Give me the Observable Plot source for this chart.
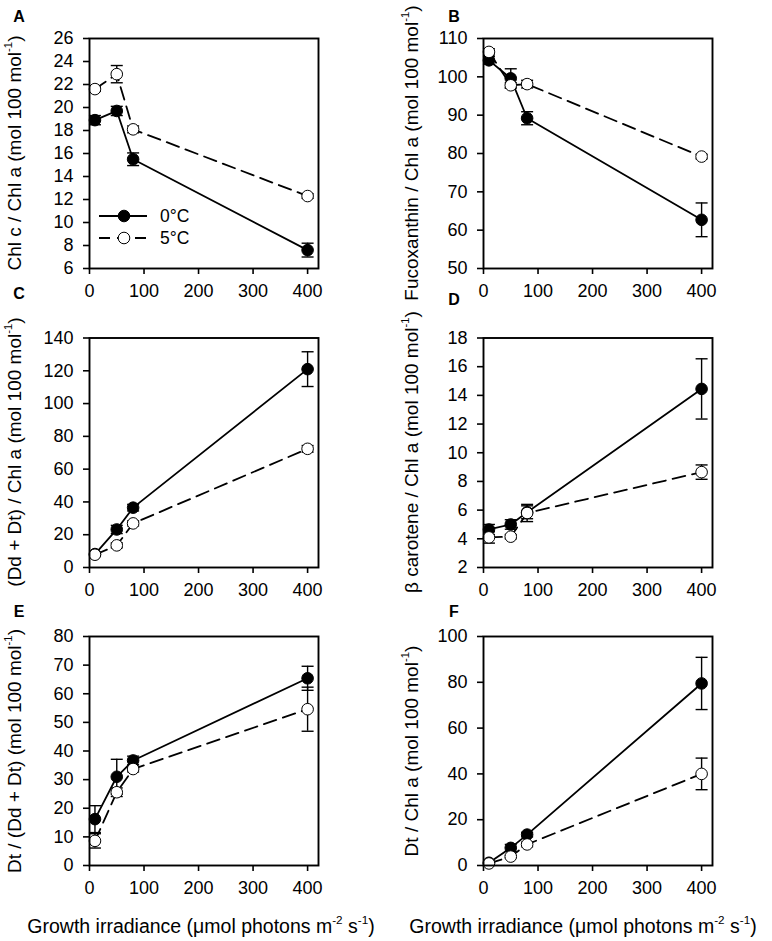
<!DOCTYPE html>
<html><head><meta charset="utf-8">
<script src="https://cdn.jsdelivr.net/npm/d3@7"></script>
<script src="https://cdn.jsdelivr.net/npm/@observablehq/plot@0.6"></script>
<style>
body{margin:0;background:#fff;}
#fig{position:relative;width:772px;height:941px;font-family:"Liberation Sans",Arial,sans-serif;color:#000;overflow:hidden;background:#fff}
.panel{position:absolute}
.ylab{position:absolute;white-space:nowrap;font-size:19px;transform:translate(-50%,-50%) rotate(-90deg);}
.xlab{position:absolute;white-space:nowrap;font-size:19.5px;transform:translate(-50%,-50%);}
.letter{position:absolute;font-weight:bold;font-size:16px;transform:translate(-50%,-50%);}
sup{font-size:0.6em;vertical-align:0.75em;line-height:0}
</style></head><body><div id="fig"></div>
<script>
// ---- data ----
const irradiance = [10, 50, 80, 400];
const xTicks = [0, 100, 200, 300, 400];
const temps = ["0°C", "5°C"];

// A: Chl c / Chl a
const chlc0 = [18.9, 19.7, 15.5, 7.6], chlc0Err = [0.4, 0.4, 0.55, 0.6];
const chlc5 = [21.6, 22.9, 18.1, 12.3], chlc5Err = [0.2, 0.75, 0.3, 0.2];
const ticksA = [6, 8, 10, 12, 14, 16, 18, 20, 22, 24, 26];
// B: Fucoxanthin / Chl a
const fuco0 = [104.3, 99.6, 89.2, 62.7], fuco0Err = [1.0, 2.5, 1.7, 4.4];
const fuco5 = [106.5, 97.8, 98.1, 79.2], fuco5Err = [0.8, 0.7, 1.0, 0.6];
const ticksB = [50, 60, 70, 80, 90, 100, 110];
// C: (Dd + Dt) / Chl a
const ddt0 = [8.2, 23.2, 36.5, 121.0], ddt0Err = [1.0, 2.5, 2.0, 10.6];
const ddt5 = [7.8, 13.5, 26.9, 72.4], ddt5Err = [1.0, 1.5, 1.5, 2.0];
const ticksC = [0, 20, 40, 60, 80, 100, 120, 140];
// D: beta carotene / Chl a
const bcar0 = [4.65, 5.0, 5.85, 14.45], bcar0Err = [0.35, 0.33, 0.45, 2.1];
const bcar5 = [4.1, 4.15, 5.8, 8.65], bcar5Err = [0.4, 0.15, 0.6, 0.5];
const ticksD = [2, 4, 6, 8, 10, 12, 14, 16, 18];
// E: Dt / (Dd + Dt)
const dtr0 = [16.2, 31.0, 36.7, 65.4], dtr0Err = [4.7, 6.1, 1.5, 4.2];
const dtr5 = [8.6, 25.6, 33.7, 54.6], dtr5Err = [2.5, 1.5, 1.0, 7.7];
const ticksE = [0, 10, 20, 30, 40, 50, 60, 70, 80];
// F: Dt / Chl a
const dtchl0 = [1.2, 7.7, 13.5, 79.5], dtchl0Err = [0.5, 1.5, 1.0, 11.4];
const dtchl5 = [0.9, 3.9, 9.2, 40.0], dtchl5Err = [0.3, 0.5, 1.0, 6.9];
const ticksF = [0, 20, 40, 60, 80, 100];

const yLabels = [
  "Chl c / Chl a (mol 100 mol<sup>-1</sup>)",
  "Fucoxanthin / Chl a (mol 100 mol<sup>-1</sup>)",
  "(Dd + Dt) / Chl a (mol 100 mol<sup>-1</sup>)",
  "β carotene / Chl a (mol 100 mol<sup>-1</sup>)",
  "Dt / (Dd + Dt) (mol 100 mol<sup>-1</sup>)",
  "Dt / Chl a (mol 100 mol<sup>-1</sup>)"
];
const xTitle = "Growth irradiance (μmol photons m<sup>-2</sup> s<sup>-1</sup>)";
const letters = ["A", "B", "C", "D", "E", "F"];

// ---- layout ----
const cols = [{left: 0, ml: 89, labX: 15, letX: 19, titleX: 201}, {left: 386, ml: 97, labX: 412, letX: 454, titleX: 583}];
const rows = [{top: 0, mt: 38, fh: 230, letY: [17, 17]}, {top: 300, mt: 37.5, fh: 229.5, letY: [294, 300]}, {top: 600, mt: 36, fh: 229, letY: [612, 612]}];
const FW = 229;

function table(vals, errs, t) {
  return irradiance.map((x, i) => ({x, y: vals[i], lo: vals[i] - errs[i], hi: vals[i] + errs[i], t}));
}

const panels = [
  {s: [table(chlc0, chlc0Err, 0), table(chlc5, chlc5Err, 1)], ticks: ticksA},
  {s: [table(fuco0, fuco0Err, 0), table(fuco5, fuco5Err, 1)], ticks: ticksB},
  {s: [table(ddt0, ddt0Err, 0), table(ddt5, ddt5Err, 1)], ticks: ticksC},
  {s: [table(bcar0, bcar0Err, 0), table(bcar5, bcar5Err, 1)], ticks: ticksD},
  {s: [table(dtr0, dtr0Err, 0), table(dtr5, dtr5Err, 1)], ticks: ticksE},
  {s: [table(dtchl0, dtchl0Err, 0), table(dtchl5, dtchl5Err, 1)], ticks: ticksF}
];

const cap = {draw(ctx, size) { const w = Math.sqrt(size / Math.PI); ctx.moveTo(-w, 0); ctx.lineTo(w, 0); }};
const fig = document.getElementById("fig");

panels.forEach((p, i) => {
  const c = cols[i % 2], r = rows[Math.floor(i / 2)];
  const mb = 45;
  const marks = [];
  p.s.forEach(data => {
    const open = data[0].t === 1;
    marks.push(
      Plot.line(data, {x: "x", y: "y", stroke: "black", strokeWidth: 1.8, strokeDasharray: open ? "13,7" : null}),
      Plot.ruleX(data, {x: "x", y1: "lo", y2: "hi", stroke: "black", strokeWidth: 1.4}),
      Plot.dot(data, {x: "x", y: "hi", symbol: cap, r: 6, stroke: "black", strokeWidth: 1.4, fill: "none"}),
      Plot.dot(data, {x: "x", y: "lo", symbol: cap, r: 6, stroke: "black", strokeWidth: 1.4, fill: "none"}),
      Plot.dot(data, {x: "x", y: "y", r: 5.8, fill: open ? "white" : "black", stroke: "black", strokeWidth: 1})
    );
  });
  const svg = Plot.plot({
    width: 386,
    height: r.mt + r.fh + mb,
    marginLeft: c.ml, marginRight: 386 - c.ml - FW, marginTop: r.mt, marginBottom: mb,
    style: {fontSize: "18px", fontFamily: "'Liberation Sans', Arial, sans-serif", color: "black", background: "transparent", overflow: "visible"},
    x: {domain: [0, 420]},
    y: {domain: [p.ticks[0], p.ticks[p.ticks.length - 1]]},
    marks: [
      Plot.axisX({ticks: xTicks, tickSize: 6, tickPadding: 10, label: null, strokeWidth: 1.6}),
      Plot.axisY({ticks: p.ticks, tickSize: 6, tickPadding: 10, label: null, strokeWidth: 1.6}),
      ...marks,
      Plot.frame({stroke: "black", strokeWidth: 1.9})
    ]
  });
  svg.classList.add("panel");
  svg.style.left = c.left + "px";
  svg.style.top = r.top + "px";
  fig.appendChild(svg);

  const yl = document.createElement("div");
  yl.className = "ylab";
  yl.innerHTML = yLabels[i];
  yl.style.left = c.labX + "px";
  yl.style.top = (r.top + r.mt + r.fh / 2) + "px";
  fig.appendChild(yl);

  const lt = document.createElement("div");
  lt.className = "letter";
  lt.textContent = letters[i];
  lt.style.left = c.letX + "px";
  lt.style.top = r.letY[i % 2] + "px";
  fig.appendChild(lt);

  if (i >= 4) {
    const xt = document.createElement("div");
    xt.className = "xlab";
    xt.innerHTML = xTitle;
    xt.style.left = c.titleX + "px";
    xt.style.top = "926px";
    fig.appendChild(xt);
  }
});

// legend in panel A
const ns = "http://www.w3.org/2000/svg";
const leg = document.createElementNS(ns, "svg");
leg.setAttribute("width", 130); leg.setAttribute("height", 50);
leg.style.position = "absolute"; leg.style.left = "95px"; leg.style.top = "204px";
temps.forEach((t, k) => {
  const y = 12 + k * 22;
  const ln = document.createElementNS(ns, "line");
  ln.setAttribute("x1", 4); ln.setAttribute("x2", 52); ln.setAttribute("y1", y); ln.setAttribute("y2", y);
  ln.setAttribute("stroke", "black"); ln.setAttribute("stroke-width", 1.8);
  if (k === 1) ln.setAttribute("stroke-dasharray", "11,7");
  leg.appendChild(ln);
  const ci = document.createElementNS(ns, "circle");
  ci.setAttribute("cx", 29); ci.setAttribute("cy", y); ci.setAttribute("r", 5.8);
  ci.setAttribute("fill", k === 0 ? "black" : "white"); ci.setAttribute("stroke", "black");
  leg.appendChild(ci);
  const tx = document.createElementNS(ns, "text");
  tx.setAttribute("x", 65); tx.setAttribute("y", y + 6);
  tx.setAttribute("font-size", 17.5); tx.setAttribute("font-family", "'Liberation Sans', Arial, sans-serif");
  tx.textContent = t;
  leg.appendChild(tx);
});
fig.appendChild(leg);
</script>
</body></html>
